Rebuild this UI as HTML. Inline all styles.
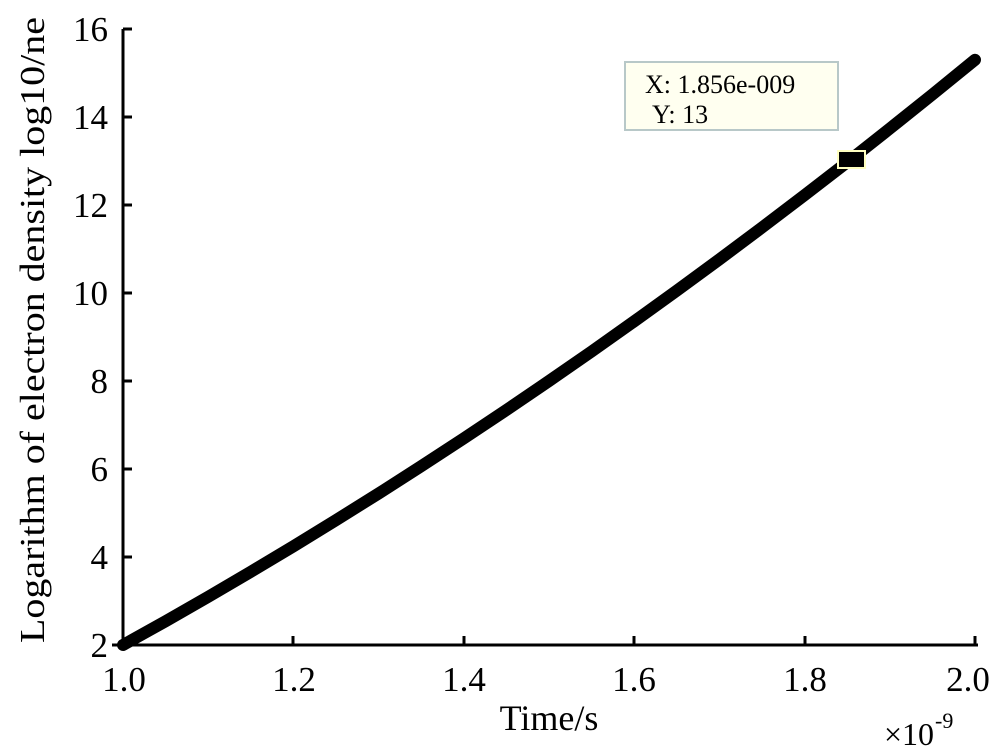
<!DOCTYPE html>
<html><head><style>body{margin:0;background:#fff}svg{display:block}</style></head><body>
<svg width="1000" height="753" viewBox="0 0 1000 753" xmlns="http://www.w3.org/2000/svg" font-family="Liberation Serif, serif">
<rect width="1000" height="753" fill="#fff"/>
<g stroke="#000" stroke-width="3" fill="none">
<line x1="123" y1="29" x2="123" y2="646"/>
<line x1="112" y1="645" x2="978" y2="645"/>
<line x1="293" y1="645" x2="293" y2="636"/>
<line x1="464" y1="645" x2="464" y2="636"/>
<line x1="634" y1="645" x2="634" y2="636"/>
<line x1="805" y1="645" x2="805" y2="636"/>
<line x1="975" y1="645" x2="975" y2="636"/>
<line x1="123" y1="557" x2="132" y2="557"/>
<line x1="123" y1="469" x2="132" y2="469"/>
<line x1="123" y1="381" x2="132" y2="381"/>
<line x1="123" y1="293" x2="132" y2="293"/>
<line x1="123" y1="205" x2="132" y2="205"/>
<line x1="123" y1="117" x2="132" y2="117"/>
<line x1="123" y1="29" x2="132" y2="29"/>
</g>
<g font-size="35" fill="#000" text-anchor="end">
<text x="108" y="657">2</text><text x="108" y="569">4</text><text x="108" y="481">6</text>
<text x="108" y="393">8</text><text x="108" y="305">10</text><text x="108" y="217">12</text>
<text x="108" y="129">14</text><text x="108" y="41">16</text>
</g>
<g font-size="35" fill="#000" text-anchor="middle">
<text x="124" y="691">1.0</text><text x="294" y="691">1.2</text><text x="464" y="691">1.4</text>
<text x="634" y="691">1.6</text><text x="805" y="691">1.8</text><text x="968" y="691">2.0</text>
<text x="549" y="730" font-size="36">Time/s</text>
</g>
<text x="884" y="745" font-size="32">×10</text><text x="935" y="728" font-size="22">-9</text>
<text transform="translate(44,330) rotate(-90)" font-size="35" text-anchor="middle" textLength="626" lengthAdjust="spacingAndGlyphs">Logarithm of electron density log10/ne</text>
<polyline points="123,645 165.6,621.2 208.2,596.8 250.8,571.8 293.4,546.3 336,520.1 378.6,493.5 421.2,466.2 463.8,438.4 506.4,410 549,381 591.6,351.5 634.2,321.3 676.8,290.6 719.4,259.4 762,227.5 804.6,195.1 847.2,162.2 889.8,128.6 932.4,94.5 975,59.8" stroke="#000" stroke-width="12" fill="none" stroke-linecap="round" stroke-linejoin="round"/>
<rect x="838" y="151" width="27" height="17" fill="#000" stroke="#ffffc0" stroke-width="2"/>
<rect x="625" y="62" width="213" height="68" fill="#fffff0" stroke="#b8c8c8" stroke-width="2"/>
<text x="645" y="93" font-size="26">X: 1.856e-009</text>
<text x="652" y="123" font-size="26">Y: 13</text>
</svg>
</body></html>
